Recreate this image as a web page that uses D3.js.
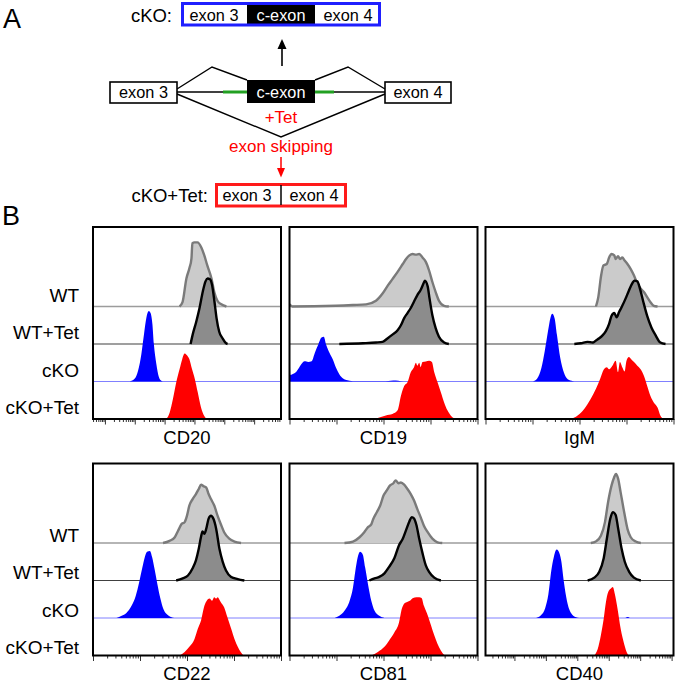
<!DOCTYPE html>
<html><head><meta charset="utf-8">
<script src="https://cdn.jsdelivr.net/npm/d3@7"></script>
<style>body{margin:0;background:#fff}svg{display:block;font-family:"Liberation Sans",Arial,Helvetica,sans-serif}</style>
</head><body><svg id="c" width="677" height="685"></svg>
<script>
// ---------- DATA ----------
const markers = ["CD20", "CD19", "IgM", "CD22", "CD81", "CD40"];
const samples = ["WT", "WT+Tet", "cKO", "cKO+Tet"];
// axis range per marker, in log10 fluorescence
const logRange = [[0.6, 6.9], [0, 4], [0, 4], [0, 4], [0, 4], [0.08, 6.06]];
// histograms: [log10 intensity, % of max]
const CD20_WT = [[3.50,0],[3.60,6],[3.73,39],[3.83,53],[3.90,67],[3.93,88],[4.00,89],[4.10,89],[4.23,82],[4.33,71],[4.43,57],[4.57,39],[4.67,19],[4.77,8],[4.90,3],[5.07,0]];
const CD20_WTTet = [[3.87,0],[3.94,13],[4.06,31],[4.17,50],[4.28,73],[4.37,87],[4.44,91],[4.52,90],[4.59,82],[4.67,59],[4.74,36],[4.83,17],[4.94,8],[5.06,1],[5.11,0]];
const CD20_cKO = [[1.83,0],[2.00,4],[2.11,15],[2.22,38],[2.31,66],[2.39,89],[2.47,98],[2.53,95],[2.59,80],[2.64,52],[2.72,25],[2.81,6],[2.89,1],[2.94,0]];
const CD20_cKOTet = [[3.06,0],[3.17,9],[3.28,28],[3.39,51],[3.50,69],[3.59,83],[3.67,91],[3.74,89],[3.83,83],[3.92,69],[4.01,56],[4.11,37],[4.22,16],[4.33,4],[4.41,0]];

const CD19_WT = [[0,3],[0.06,0],[0.99,1],[1.35,2],[1.63,3],[1.84,8],[1.98,18],[2.09,29],[2.19,38],[2.30,48],[2.41,59],[2.48,66],[2.55,71],[2.62,73],[2.69,72],[2.76,73],[2.83,68],[2.90,62],[2.97,50],[3.04,34],[3.11,20],[3.18,8],[3.29,1],[3.39,0]];
const CD19_WTTet = [[1.06,0],[1.56,1],[1.84,2],[1.98,3],[2.09,8],[2.19,13],[2.30,19],[2.37,26],[2.44,36],[2.51,43],[2.58,50],[2.65,59],[2.72,68],[2.79,75],[2.85,84],[2.88,88],[2.94,80],[2.98,63],[3.04,40],[3.11,22],[3.18,10],[3.29,2],[3.39,0]];
const CD19_cKO = [[0,104],[0.02,9],[0.06,10],[0.15,14],[0.25,24],[0.32,28],[0.40,27],[0.47,28],[0.54,40],[0.61,51],[0.68,61],[0.73,62],[0.78,51],[0.85,40],[0.92,31],[0.99,19],[1.06,10],[1.14,4],[1.21,2],[1.35,0.5],[2.05,0.5],[2.26,1.5],[2.37,0.5],[2.48,0]];
const CD19_cKOTet = [[1.81,0],[1.91,2],[2.05,5],[2.19,7],[2.30,12],[2.37,32],[2.44,46],[2.51,51],[2.58,65],[2.65,72],[2.69,78],[2.72,74],[2.76,78],[2.79,72],[2.83,79],[2.90,80],[2.97,81],[3.03,79],[3.08,65],[3.15,51],[3.22,37],[3.29,23],[3.36,12],[3.43,5],[3.50,1],[3.53,0]];

const IgM_WT = [[2.35,0],[2.40,13],[2.46,43],[2.51,57],[2.58,59],[2.63,68],[2.68,73],[2.74,71],[2.77,66],[2.82,70],[2.86,66],[2.91,68],[2.96,64],[3.02,59],[3.09,52],[3.16,43],[3.23,32],[3.30,25],[3.37,20],[3.44,13],[3.51,6],[3.58,1],[3.66,0]];
const IgM_WTTet = [[1.89,0],[2.03,1],[2.17,3],[2.28,2],[2.35,5],[2.42,8],[2.49,12],[2.56,18],[2.63,28],[2.68,39],[2.74,43],[2.79,37],[2.84,44],[2.91,53],[2.98,63],[3.05,74],[3.13,85],[3.17,88],[3.23,87],[3.29,76],[3.36,58],[3.44,39],[3.53,23],[3.62,12],[3.72,2],[3.83,0]];
const IgM_cKO = [[1.01,0],[1.10,4],[1.19,19],[1.26,42],[1.33,70],[1.38,88],[1.42,94],[1.47,88],[1.52,65],[1.59,33],[1.67,12],[1.75,3],[1.86,0.5],[1.93,0]];
const IgM_cKOTet = [[1.82,0],[1.96,5],[2.10,14],[2.24,28],[2.35,42],[2.44,56],[2.52,69],[2.58,72],[2.63,69],[2.70,74],[2.77,81],[2.82,65],[2.86,79],[2.91,72],[2.96,66],[3.00,81],[3.05,86],[3.10,83],[3.16,79],[3.23,74],[3.30,69],[3.37,60],[3.44,46],[3.51,32],[3.58,23],[3.66,16],[3.72,5],[3.79,0]];

const CD22_WT = [[1.49,0],[1.63,3],[1.74,8],[1.81,17],[1.88,26],[1.95,29],[2.00,38],[2.05,52],[2.12,61],[2.19,68],[2.25,75],[2.30,81],[2.35,79],[2.41,77],[2.46,68],[2.51,61],[2.58,52],[2.65,38],[2.72,26],[2.79,15],[2.90,6],[3.01,2],[3.15,0]];
const CD22_WTTet = [[1.77,0],[1.91,3],[2.02,7],[2.12,17],[2.19,28],[2.25,44],[2.30,61],[2.33,68],[2.37,65],[2.41,72],[2.46,86],[2.51,90],[2.56,86],[2.62,72],[2.69,44],[2.76,26],[2.83,14],[2.94,5],[3.08,2],[3.22,0]];
const CD22_cKO = [[0.50,0],[0.61,3],[0.71,7],[0.82,17],[0.91,31],[0.98,49],[1.05,70],[1.10,84],[1.15,92],[1.21,93],[1.26,84],[1.31,68],[1.37,47],[1.43,28],[1.50,12],[1.59,4],[1.70,0.5],[1.77,0]];
const CD22_cKOTet = [[1.84,0],[1.95,5],[2.05,12],[2.16,23],[2.23,37],[2.30,49],[2.37,69],[2.42,76],[2.48,79],[2.53,76],[2.58,81],[2.62,79],[2.65,81],[2.72,74],[2.79,67],[2.86,53],[2.94,37],[3.01,23],[3.08,12],[3.15,4],[3.20,0]];

const CD81_WT = [[1.17,0],[1.35,2],[1.49,8],[1.59,15],[1.67,22],[1.74,26],[1.78,33],[1.86,43],[1.93,52],[2.00,66],[2.07,73],[2.14,80],[2.21,83],[2.26,87],[2.32,83],[2.37,84],[2.44,81],[2.51,75],[2.58,68],[2.65,59],[2.72,47],[2.79,36],[2.86,24],[2.94,15],[3.04,6],[3.15,1],[3.25,0]];
const CD81_WTTet = [[1.70,0],[1.81,3],[1.91,5],[2.02,10],[2.12,19],[2.23,31],[2.33,49],[2.41,58],[2.48,70],[2.55,82],[2.60,88],[2.65,86],[2.70,77],[2.76,58],[2.83,38],[2.90,21],[2.97,12],[3.08,4],[3.22,0]];
const CD81_cKO = [[0.96,0],[1.06,3],[1.17,10],[1.28,24],[1.35,42],[1.40,65],[1.45,84],[1.50,92],[1.56,88],[1.61,70],[1.67,47],[1.74,24],[1.81,10],[1.91,3],[2.02,0]];
const CD81_cKOTet = [[1.74,0],[1.88,5],[2.02,12],[2.12,21],[2.23,32],[2.33,46],[2.39,65],[2.44,72],[2.49,74],[2.56,76],[2.63,80],[2.70,81],[2.76,81],[2.81,80],[2.86,69],[2.94,56],[3.01,42],[3.08,28],[3.15,16],[3.22,7],[3.29,1],[3.32,0]];

const CD40_WT = [[3.43,0],[3.59,2],[3.75,10],[3.88,29],[3.98,57],[4.09,80],[4.17,91],[4.23,96],[4.30,89],[4.38,70],[4.49,43],[4.60,19],[4.70,8],[4.86,2],[5.02,0]];
const CD40_WTTet = [[3.33,0],[3.54,4],[3.70,12],[3.84,31],[3.94,58],[4.05,86],[4.13,95],[4.22,91],[4.30,72],[4.41,44],[4.51,26],[4.65,12],[4.80,4],[5.02,0]];
const CD40_cKO = [[1.69,0],[1.85,4],[1.98,14],[2.08,33],[2.17,65],[2.25,84],[2.34,95],[2.40,93],[2.49,79],[2.57,51],[2.67,24],[2.80,7],[2.96,1],[3.06,0],[4.51,0],[4.60,1.5],[4.67,0]];
const CD40_cKOTet = [[3.54,0],[3.65,9],[3.75,28],[3.84,51],[3.91,74],[3.98,88],[4.07,93],[4.13,95],[4.19,86],[4.28,65],[4.38,37],[4.49,16],[4.60,2],[4.65,0]];

const histograms = {
  CD20: [CD20_WT, CD20_WTTet, CD20_cKO, CD20_cKOTet],
  CD19: [CD19_WT, CD19_WTTet, CD19_cKO, CD19_cKOTet],
  IgM:  [IgM_WT, IgM_WTTet, IgM_cKO, IgM_cKOTet],
  CD22: [CD22_WT, CD22_WTTet, CD22_cKO, CD22_cKOTet],
  CD81: [CD81_WT, CD81_WTTet, CD81_cKO, CD81_cKOTet],
  CD40: [CD40_WT, CD40_WTTet, CD40_cKO, CD40_cKOTet]
};

// ---------- LAYOUT / STYLE ----------
const svg = d3.select("#c");
const FONT = '"Liberation Sans",Arial,Helvetica,sans-serif';
const colLeft = [93, 289.5, 485.5], panelW = 188;
const rowTop = [227, 463.5], panelH = 192, rowGap = 37.5, peakH = 72;
const labelOffset = [11.5, 8];
const styles = [
  {fill: "#cbcbcb", stroke: "#7a7a7a", sw: 2.4, base: "#9c9c9c", bw: 1.6},
  {fill: "#8c8c8c", stroke: "#000000", sw: 2.4, base: "#404040", bw: 1.2},
  {fill: "#0000ff", stroke: null, sw: 0, base: "#8080ff", bw: 1},
  {fill: "#ff0000", stroke: null, sw: 0, base: "#ff4040", bw: 1}
];

// ---------- PANEL A ----------
const A = svg.append("g");
A.append("text").attr("x", 3).attr("y", 28).attr("font-size", 27).text("A");
A.append("text").attr("x", 2).attr("y", 225).attr("font-size", 27).text("B");

function label(g, x, y, t, size, color, anchor) {
  g.append("text").attr("x", x).attr("y", y).attr("font-size", size)
    .attr("fill", color || "#000").attr("text-anchor", anchor || "middle").text(t);
}
// cKO transcript box
label(A, 172, 22, "cKO:", 18.5, "#000", "end");
A.append("rect").attr("x", 247).attr("y", 4).attr("width", 68).attr("height", 21).attr("fill", "#000");
A.append("rect").attr("x", 182.5).attr("y", 3.5).attr("width", 197).attr("height", 21.5)
  .attr("fill", "none").attr("stroke", "#1f1fff").attr("stroke-width", 3);
label(A, 214, 20.5, "exon 3", 16.3);
label(A, 281, 20.5, "c-exon", 16.3, "#fff");
label(A, 348, 20.5, "exon 4", 16.3);
// up arrow
A.append("line").attr("x1", 282).attr("x2", 282).attr("y1", 66).attr("y2", 46).attr("stroke", "#000").attr("stroke-width", 1.6);
A.append("path").attr("d", "M282,39 L277.5,49 L286.5,49 Z").attr("fill", "#000");
// gene structure
A.append("line").attr("x1", 177).attr("x2", 385).attr("y1", 92).attr("y2", 92).attr("stroke", "#000").attr("stroke-width", 1.5);
A.append("line").attr("x1", 223).attr("x2", 247).attr("y1", 92).attr("y2", 92).attr("stroke", "#22a022").attr("stroke-width", 3);
A.append("line").attr("x1", 315).attr("x2", 334).attr("y1", 92).attr("y2", 92).attr("stroke", "#22a022").attr("stroke-width", 3);
A.append("path").attr("d", "M177,89 L212,67 L247,80 M315,80 L348,67 L385,89 M177,94 L281,137 L385,94")
  .attr("fill", "none").attr("stroke", "#000").attr("stroke-width", 1.4);
A.append("rect").attr("x", 110).attr("y", 82).attr("width", 67).attr("height", 21).attr("fill", "#fff").attr("stroke", "#000").attr("stroke-width", 1.6);
A.append("rect").attr("x", 247).attr("y", 80).attr("width", 68).attr("height", 23).attr("fill", "#000");
A.append("rect").attr("x", 385).attr("y", 82).attr("width", 66).attr("height", 21).attr("fill", "#fff").attr("stroke", "#000").attr("stroke-width", 1.6);
label(A, 143.5, 97.5, "exon 3", 16.3);
label(A, 281, 97.5, "c-exon", 16.3, "#fff");
label(A, 418, 97.5, "exon 4", 16.3);
label(A, 281, 123, "+Tet", 17, "#ff0000");
label(A, 281, 152, "exon skipping", 17, "#ff0000");
A.append("line").attr("x1", 281).attr("x2", 281).attr("y1", 157).attr("y2", 170).attr("stroke", "#ff0000").attr("stroke-width", 1.5);
A.append("path").attr("d", "M281,177.5 L277,168 L285,168 Z").attr("fill", "#ff0000");
// cKO+Tet transcript
label(A, 208, 202, "cKO+Tet:", 18.5, "#000", "end");
A.append("rect").attr("x", 216.5).attr("y", 184.5).attr("width", 129).attr("height", 21.5)
  .attr("fill", "none").attr("stroke", "#ff1a1a").attr("stroke-width", 3);
A.append("line").attr("x1", 281).attr("x2", 281).attr("y1", 185).attr("y2", 205).attr("stroke", "#000").attr("stroke-width", 1.5);
label(A, 247, 201, "exon 3", 16.3);
label(A, 314, 201, "exon 4", 16.3);

// ---------- PANEL B ----------
markers.forEach((m, i) => {
  const r = Math.floor(i / 3), c = i % 3;
  const g = svg.append("g").attr("transform", `translate(${colLeft[c]},${rowTop[r]})`);
  const x = d3.scaleLog().domain(logRange[i].map(v => Math.pow(10, v))).range([0, panelW]);
  const y = d3.scaleLinear().domain([0, 100]).range([0, peakH]);
  const cid = "clip" + i;
  g.append("clipPath").attr("id", cid).append("rect").attr("width", panelW).attr("height", panelH);
  const body = g.append("g").attr("clip-path", `url(#${cid})`);

  samples.forEach((s, k) => {
    const base = panelH - (3 - k) * rowGap;
    const st = styles[k];
    const data = histograms[m][k];
    body.append("line").attr("x1", 0).attr("x2", panelW).attr("y1", base).attr("y2", base)
      .attr("stroke", st.base).attr("stroke-width", st.bw);
    const area = d3.area().curve(d3.curveMonotoneX)
      .x(d => x(Math.pow(10, d[0]))).y0(base).y1(d => base - y(d[1]));
    body.append("path").datum(data).attr("d", area).attr("fill", st.fill);
    if (st.stroke) {
      const line = d3.line().curve(d3.curveMonotoneX)
        .x(d => x(Math.pow(10, d[0]))).y(d => base - y(d[1]));
      body.append("path").datum(data).attr("d", line).attr("fill", "none")
        .attr("stroke", st.stroke).attr("stroke-width", st.sw).attr("stroke-linejoin", "round");
    }
    if (c === 0) {
      g.append("text").attr("x", 79 - colLeft[0]).attr("y", base - labelOffset[r]).attr("dy", "0.35em")
        .attr("text-anchor", "end").attr("font-size", 19).attr("font-family", FONT).text(s);
    }
  });

  // axis ticks
  const ticks = x.ticks();
  const isMajor = t => Math.abs(Math.log10(t) - Math.round(Math.log10(t))) < 1e-6;
  const major = ticks.filter(isMajor), minor = ticks.filter(t => !isMajor(t));
  const ax = g.append("g").attr("transform", `translate(0,${panelH})`);
  ax.append("g").call(d3.axisBottom(x).tickValues(minor).tickSize(3).tickFormat(""));
  ax.append("g").call(d3.axisBottom(x).tickValues(major).tickSize(5.5).tickFormat(""));
  ax.selectAll(".domain").remove();
  ax.selectAll(".tick line").attr("stroke", "#333").attr("stroke-width", 1);

  g.append("rect").attr("width", panelW).attr("height", panelH).attr("fill", "none")
    .attr("stroke", "#000").attr("stroke-width", 2);
  g.append("text").attr("x", panelW / 2).attr("y", panelH + 18.5).attr("dy", "0.35em")
    .attr("text-anchor", "middle").attr("font-size", 18.5).attr("font-family", FONT).text(m);
});
</script></body></html>
